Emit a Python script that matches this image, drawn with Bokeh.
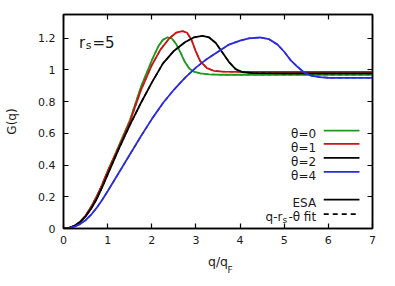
from math import pi
from bokeh.plotting import figure
from bokeh.models import LinearAxis, FixedTicker, CustomJSTickFormatter, Label, Range1d
from bokeh.embed import file_html
from bokeh.resources import INLINE

# ---- data ----
x_ticks = [0, 1, 2, 3, 4, 5, 6, 7]
y_ticks = [0, 0.2, 0.4, 0.6, 0.8, 1, 1.2]

q_t0 = [0, 0.125, 0.25, 0.375, 0.5, 0.625, 0.75, 0.875, 1.0, 1.25, 1.5, 1.75, 2.0, 2.15, 2.25, 2.35, 2.45, 2.55, 2.65, 2.75, 2.85, 2.95, 3.1, 3.3, 3.6, 4.0, 5.0, 6.0, 7.0]
g_t0 = [0, 0.004, 0.017, 0.042, 0.08, 0.135, 0.2, 0.275, 0.36, 0.52, 0.68, 0.89, 1.06, 1.15, 1.19, 1.205, 1.2, 1.165, 1.11, 1.05, 1.01, 0.99, 0.978, 0.972, 0.97, 0.97, 0.97, 0.97, 0.97]

q_t1 = [0, 0.125, 0.25, 0.375, 0.5, 0.625, 0.75, 0.875, 1.0, 1.25, 1.5, 1.75, 2.0, 2.2, 2.4, 2.55, 2.7, 2.8, 2.9, 3.0, 3.1, 3.25, 3.4, 3.6, 4.0, 5.0, 6.0, 7.0]
g_t1 = [0, 0.004, 0.017, 0.042, 0.08, 0.135, 0.2, 0.275, 0.36, 0.51, 0.67, 0.87, 1.03, 1.13, 1.2, 1.235, 1.245, 1.235, 1.19, 1.115, 1.055, 1.012, 0.995, 0.99, 0.988, 0.988, 0.988, 0.988]

q_t2 = [0, 0.125, 0.25, 0.375, 0.5, 0.625, 0.75, 0.875, 1.0, 1.25, 1.5, 1.75, 2.0, 2.25, 2.5, 2.75, 2.95, 3.15, 3.3, 3.45, 3.6, 3.75, 3.9, 4.05, 4.3, 5.0, 6.0, 7.0]
g_t2 = [0, 0.004, 0.016, 0.04, 0.076, 0.125, 0.185, 0.26, 0.34, 0.5, 0.65, 0.79, 0.92, 1.04, 1.12, 1.175, 1.205, 1.215, 1.205, 1.17, 1.11, 1.05, 1.005, 0.987, 0.98, 0.978, 0.978, 0.978]

q_t4 = [0, 0.125, 0.25, 0.375, 0.5, 0.625, 0.75, 0.875, 1.0, 1.25, 1.5, 1.75, 2.0, 2.25, 2.5, 2.75, 3.0, 3.25, 3.5, 3.75, 4.0, 4.2, 4.45, 4.65, 4.85, 5.0, 5.15, 5.3, 5.45, 5.6, 5.8, 6.0, 7.0]
g_t4 = [0, 0.003, 0.012, 0.028, 0.052, 0.087, 0.13, 0.18, 0.235, 0.35, 0.465, 0.58, 0.69, 0.79, 0.875, 0.95, 1.015, 1.07, 1.115, 1.16, 1.185, 1.2, 1.205, 1.195, 1.16, 1.115, 1.06, 1.02, 0.985, 0.965, 0.955, 0.951, 0.95]

series = [
    ("θ=0", "#1f9a1f", q_t0, g_t0),
    ("θ=1", "#cc1515", q_t1, g_t1),
    ("θ=2", "#000000", q_t2, g_t2),
    ("θ=4", "#2a2ae0", q_t4, g_t4),
]

FONT = "DejaVu Sans"
TXT = "#1a1a1a"

p = figure(width=387, height=278, x_range=Range1d(0, 7), y_range=Range1d(0, 1.35),
           output_backend="svg", toolbar_location=None,
           min_border_left=63, min_border_right=15, min_border_top=14, min_border_bottom=50)
p.grid.visible = False
p.outline_line_color = "black"
p.outline_line_width = 1.5
p.background_fill_color = "white"
p.border_fill_color = "white"

bottom = p.below[0]
left = p.left[0]

fmt = CustomJSTickFormatter(code="return tick.toString()")

def style_axis(ax, ticks, show_labels, standoff):
    ax.ticker = FixedTicker(ticks=ticks)
    ax.major_tick_in = 5
    ax.major_tick_out = 0
    ax.minor_tick_in = 0
    ax.minor_tick_out = 0
    ax.major_tick_line_color = "black"
    ax.major_tick_line_width = 1.2
    ax.axis_line_color = "black"
    ax.axis_line_width = 1.5
    if show_labels:
        ax.formatter = fmt
        ax.major_label_text_font = FONT
        ax.major_label_text_font_size = "11px"
        ax.major_label_text_color = TXT
        ax.major_label_standoff = standoff
    else:
        ax.formatter = CustomJSTickFormatter(code="return ''")
        ax.major_label_text_font_size = "0px"
        ax.major_label_standoff = 0

style_axis(bottom, x_ticks, True, 7)
style_axis(left, y_ticks, True, 8)
top = LinearAxis()
style_axis(top, x_ticks, False, 0)
p.add_layout(top, "above")
right = LinearAxis()
style_axis(right, y_ticks, False, 0)
p.add_layout(right, "right")

# axis titles
for ax, lab, size, so in ((left, "G(q)", "12px", 16), (bottom, "q/q", "12.5px", 7)):
    ax.axis_label = lab
    ax.axis_label_text_font = FONT
    ax.axis_label_text_font_size = size
    ax.axis_label_text_font_style = "normal"
    ax.axis_label_text_color = TXT
    ax.axis_label_standoff = so

# subscript F of the x title, as the single label of an extra bottom axis
sub_ax = LinearAxis(ticker=FixedTicker(ticks=[3.775]),
                    formatter=CustomJSTickFormatter(code="return 'F'"))
sub_ax.axis_line_color = None
sub_ax.major_tick_line_color = None
sub_ax.minor_tick_line_color = None
sub_ax.major_tick_in = 0
sub_ax.major_tick_out = 0
sub_ax.major_label_standoff = -7
sub_ax.major_label_text_font = FONT
sub_ax.major_label_text_font_size = "9px"
sub_ax.major_label_text_color = TXT
p.add_layout(sub_ax, "below")

# curves: ESA (solid) and q-rs-theta fit (dashed)
for name, col, qs, gs in series:
    p.line(qs, gs, line_color=col, line_width=1.8)
    p.line(qs, gs, line_color=col, line_width=1.4, line_dash="4 3")

# legend drawn by hand (text left, sample right)
leg_rows = [
    ("θ=0", "#1f9a1f", 0.618, 0.597),
    ("θ=1", "#cc1515", 0.534, 0.509),
    ("θ=2", "#000000", 0.445, 0.422),
    ("θ=4", "#2a2ae0", 0.357, 0.333),
    ("ESA", "#000000", 0.182, 0.158),
]
for txt, col, ly, by in leg_rows:
    p.add_layout(Label(x=5.723, y=by, text=txt, text_align="right", text_baseline="alphabetic",
                       text_font=FONT, text_font_size="12px", text_color=TXT))
    p.line([5.895, 6.705], [ly, ly], line_color=col, line_width=1.8)

p.line([5.895, 6.705], [0.091, 0.091], line_color="black", line_width=1.8, line_dash="5 4")
p.add_layout(Label(x=5.723, y=0.070, text="-θ fit", text_align="right", text_baseline="alphabetic",
                   text_font=FONT, text_font_size="12px", text_color=TXT))
p.add_layout(Label(x=4.96, y=0.052, text="s", text_align="left", text_baseline="alphabetic",
                   text_font=FONT, text_font_size="9px", text_color=TXT))
p.add_layout(Label(x=4.96, y=0.070, text="q-r", text_align="right", text_baseline="alphabetic",
                   text_font=FONT, text_font_size="12px", text_color=TXT))

# r_s = 5
p.add_layout(Label(x=0.352, y=1.173, text="r", text_align="left", text_baseline="alphabetic",
                   text_font=FONT, text_font_size="15px", text_color=TXT))
p.add_layout(Label(x=0.505, y=1.152, text="s", text_align="left", text_baseline="alphabetic",
                   text_font=FONT, text_font_size="11px", text_color=TXT))
p.add_layout(Label(x=0.658, y=1.173, text="=5", text_align="left", text_baseline="alphabetic",
                   text_font=FONT, text_font_size="15px", text_color=TXT))

open("out.html", "w").write(file_html(p, INLINE))
